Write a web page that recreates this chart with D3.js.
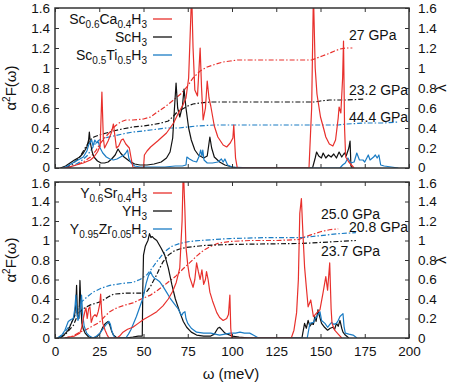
<!DOCTYPE html>
<html>
<head>
<meta charset="utf-8">
<script src="https://cdn.jsdelivr.net/npm/d3@7"></script>
<style>
  body { margin: 0; background: #fff; }
  svg { font-family: "Liberation Sans", Arial, sans-serif; }
  .tick text { font-size: 13.5px; fill: #111; }
</style>
</head>
<body>
<svg id="chart" width="458" height="382"></svg>
<script>
// ---- data (omega in meV, value) ----
var scCaA2F = [[5.5,0],[8,0.01],[12,0.03],[16,0.05],[20,0.08],[22,0.11],[24,0.16],[25.5,0.22],[26.5,0.76],[27.3,0.3],[28,0.2],[30,0.27],[32,0.36],[33,0.44],[34,0.3],[34.7,0.2],[36,0.22],[37.5,0.28],[38.5,0.29],[40,0.24],[41,0.22],[42,0.2],[43,0.1],[44,0.01],[46,0],[50,0],[50.5,0.13],[52,0.17],[54,0.21],[58,0.27],[63,0.35],[67,0.45],[70,0.56],[72,0.62],[74,0.7],[75.5,0.9],[76.5,1.4],[77.2,1.75],[78,1.2],[79,0.78],[80.5,0.72],[82,1.2],[82.8,0.8],[83.7,0.48],[85,0.6],[86,0.87],[87,0.7],[88,0.62],[90,0.42],[92,0.31],[95,0.23],[97,0.21],[99,0.25],[100.5,0.3],[101,0.43],[102,0.1],[103,0],[143.5,0],[145,0.6],[146,1.75],[147,1.0],[148,0.74],[150,0.51],[152,0.38],[153,0.31],[155,0.24],[157,0.22],[158.5,0.28],[160,0.5],[160.5,0.61],[161.5,0.55],[162.5,0.9],[163,1.27],[163.6,0.4],[164.2,0.11],[166,0.06],[168,0.02],[169,0]];
var scHA2F = [[3,0],[6,0.02],[8.5,0.05],[11,0.08],[14,0.11],[16,0.15],[18,0.21],[19,0.28],[19.4,0.36],[20,0.25],[21,0.16],[22,0.11],[24,0.07],[26,0.05],[28,0.05],[30,0.06],[32,0.09],[34,0.13],[35.6,0.19],[37,0.15],[39,0.11],[42,0.07],[45,0.04],[48,0.03],[52,0.03],[56,0.04],[60,0.06],[63,0.1],[65,0.16],[66.5,0.3],[67.5,0.6],[68.4,0.85],[69.3,0.6],[70.5,0.51],[72,0.62],[72.9,0.79],[74,0.6],[75.5,0.4],[77,0.28],[79,0.18],[81,0.13],[84,0.1],[86,0.12],[87.5,0.31],[88.5,0.2],[90,0.11],[93,0.06],[96,0.03],[100,0.01],[104,0],[145.5,0],[147,0.1],[147.8,0.16],[149,0.12],[150.5,0.1],[151.5,0.15],[153,0.1],[154.5,0.13],[156,0.11],[157.5,0.14],[159,0.1],[160.5,0.16],[162,0.11],[163.5,0.15],[164.5,0.12],[166,0.2],[166.7,0.27],[167.2,0.02],[168,0]];
var scTiA2F = [[4.5,0],[7,0.02],[10,0.05],[13,0.08],[16,0.11],[18,0.17],[19,0.23],[20.7,0.28],[21.5,0.22],[22.5,0.28],[23.5,0.25],[24.5,0.26],[25.5,0.2],[27,0.15],[29,0.11],[31,0.09],[33,0.08],[35,0.09],[37,0.11],[39,0.13],[40,0.15],[41,0.18],[41.7,0.1],[43,0.05],[45,0.02],[48,0.01],[55,0.01],[62,0.01],[68,0.02],[72,0.02],[74,0.03],[74.5,0.11],[76,0.09],[78,0.07],[80,0.06],[81.5,0.12],[82.3,0.18],[83,0.12],[83.5,0.18],[84.2,0.08],[86,0.05],[89,0.05],[92,0.06],[94,0.09],[95,0.06],[96,0.09],[97.5,0.03],[100,0.01],[112,0],[161,0],[162.5,0.03],[164,0.05],[165.5,0.1],[167,0.05],[169,0.06],[170.5,0.15],[172,0.08],[174,0.08],[175,0.06],[177,0.13],[178,0.08],[180,0.11],[181,0.13],[182,0.1],[183,0.13],[184,0.03],[186,0.02],[190,0.01],[194,0]];
var scCaLam = [[7,0],[12,0.03],[16,0.06],[20,0.11],[23,0.17],[25,0.23],[28,0.3],[31,0.36],[34,0.42],[37,0.46],[40,0.48],[44,0.48],[50,0.49],[54,0.51],[57,0.55],[62,0.61],[67,0.68],[71,0.74],[74.5,0.81],[78,0.9],[82,0.97],[86,1.01],[91,1.04],[95,1.06],[99,1.07],[103,1.08],[120,1.08],[145,1.08],[148,1.1],[151,1.12],[154,1.14],[158,1.17],[161,1.19],[164,1.2],[168,1.2]];
var scHLam = [[6,0],[10,0.04],[14,0.11],[17,0.2],[20,0.28],[22,0.31],[25,0.33],[29,0.35],[33,0.37],[38,0.39],[44,0.41],[50,0.42],[54,0.43],[60,0.45],[64,0.47],[67,0.52],[69,0.56],[72,0.59],[75,0.62],[78,0.64],[82,0.65],[88,0.66],[100,0.66],[147,0.66],[150,0.67],[155,0.68],[165,0.68],[175,0.69]];
var scTiLam = [[6,0],[10,0.02],[14,0.06],[18,0.12],[20,0.17],[21.5,0.21],[23,0.25],[25,0.28],[28,0.3],[33,0.32],[38,0.34],[44,0.36],[50,0.37],[54,0.38],[63,0.4],[70,0.4],[75,0.41],[80,0.42],[90,0.43],[100,0.43],[160,0.43],[165,0.44],[175,0.45],[185,0.45],[194,0.46]];

var ySrA2F = [[5.5,0],[8,0.01],[11,0.02],[14,0.05],[15,0.1],[16,0.2],[17,0.28],[17.5,0.31],[18.2,0.2],[19,0.3],[19.7,0.32],[20.5,0.16],[21.5,0.22],[22.6,0.24],[23.5,0.22],[24.4,0.27],[25.3,0.35],[25.8,0.45],[26.4,0.25],[27,0.15],[28.3,0.08],[29.5,0.03],[30.5,0],[35,0],[36.5,0.02],[38.4,0.06],[41,0.09],[44,0.11],[47,0.15],[50,0.19],[54,0.23],[57.5,0.27],[61,0.33],[64,0.4],[66.5,0.48],[68.5,0.57],[70.5,0.72],[71.8,1.2],[72.5,1.75],[73.4,1.3],[74,0.93],[75,0.75],[76,0.63],[78,0.52],[79,0.6],[80,0.77],[81,0.68],[82,0.6],[83,0.7],[84,0.55],[85,0.6],[85.6,0.68],[86.5,0.6],[87.5,0.47],[89,0.38],[91.4,0.26],[93,0.21],[95,0.18],[97,0.2],[98,0.24],[98.8,0.44],[99.3,0.1],[99.8,0],[133.5,0],[135,0.08],[136.5,0.26],[137.5,0.6],[138.3,1.28],[139.2,1.43],[140,1.1],[141,0.73],[142,0.52],[143,0.32],[144.5,0.39],[146,0.22],[148,0.26],[149.7,0.29],[151.4,0.46],[153,0.63],[154,0.49],[155.2,0.77],[156,0.3],[156.5,0.15],[158,0.08],[160,0.04],[162,0]];
var yHA2F = [[2,0],[5,0.03],[7.5,0.08],[9.4,0.16],[11,0.22],[11.8,0.35],[12.2,0.54],[12.7,0.22],[13.5,0.2],[14.1,0.59],[14.7,0.3],[15.2,0.15],[16,0.09],[17,0.05],[19,0.01],[21,0],[23.5,0.01],[25.5,0.05],[27,0.11],[28.5,0.15],[30,0.17],[31,0.13],[32,0.07],[33,0.03],[35,0],[40,0],[44,0.01],[47,0.02],[49.3,0.02],[49.6,0.5],[50,0.85],[51,0.94],[52.5,1.0],[53.4,1.07],[54.2,1.03],[55,1.04],[56,1.02],[57.5,1.0],[60,0.92],[62,0.85],[64,0.72],[66,0.55],[68,0.4],[70.6,0.26],[72.5,0.17],[74.4,0.11],[77,0.06],[80,0.03],[84,0.02],[88,0.02],[90,0.04],[92,0.1],[93,0.11],[94.5,0.08],[96,0.05],[100,0.02],[104,0.01],[110,0],[139.5,0],[140,0.05],[141,0.15],[142,0.1],[143,0.18],[144,0.12],[145,0.15],[146,0.14],[146.8,0.22],[147.5,0.17],[148.6,0.29],[149.5,0.22],[150.6,0.15],[152.3,0.11],[154,0.08],[155.5,0.1],[157,0.11],[158,0.09],[159,0.15],[160,0.12],[161,0.18],[162,0.1],[162.7,0.06],[164,0.03],[166,0]];
var yZrA2F = [[1.5,0],[3.5,0.02],[5.6,0.08],[7.5,0.17],[9,0.19],[10.3,0.2],[11.2,0.3],[11.8,0.44],[12.4,0.25],[13,0.18],[14,0.25],[15,0.44],[15.6,0.25],[16.5,0.12],[17.9,0.05],[19.5,0.02],[21.5,0],[23.5,0.02],[25.4,0.05],[27,0.09],[28.5,0.13],[30.5,0.17],[31.3,0.14],[32,0.08],[33,0.03],[34,0],[40,0],[41.5,0.04],[43,0.09],[46,0.22],[49.7,0.41],[51.5,0.56],[52.8,0.64],[54,0.68],[55,0.64],[56.4,0.61],[57.5,0.6],[59,0.58],[61,0.53],[63,0.47],[65,0.41],[67,0.36],[69.5,0.3],[71.5,0.23],[72.5,0.26],[73.4,0.27],[74,0.2],[75,0.15],[77,0.1],[80,0.06],[84,0.05],[88,0.05],[93,0.03],[96,0.04],[99,0.05],[102,0.05],[104.5,0.06],[107,0.05],[110,0.05],[112,0.03],[115,0],[142.5,0],[143.5,0.1],[144,0.15],[146,0.16],[147,0.2],[148,0.22],[149.7,0.27],[150.6,0.18],[152.5,0.15],[154,0.11],[155.3,0.14],[156.3,0.16],[157.5,0.14],[159,0.15],[160,0.18],[161,0.22],[162.7,0.25],[163.3,0.12],[164,0.05],[166,0.04],[168.4,0.03],[170.6,0]];
var ySrLam = [[5.5,0],[10,0.02],[14,0.06],[18,0.09],[22,0.13],[25,0.16],[28,0.22],[31,0.27],[35,0.31],[40,0.34],[44,0.36],[50,0.41],[54,0.44],[58,0.49],[63,0.56],[68,0.63],[72.4,0.71],[76,0.77],[80,0.84],[84,0.9],[88,0.94],[92,0.97],[98.6,0.99],[110,1.0],[125,1.0],[138,1.01],[140,1.03],[145,1.06],[150,1.09],[155,1.11],[160,1.12]];
var yHLam = [[3,0],[6,0.04],[8,0.08],[10.4,0.13],[12,0.2],[14,0.27],[16,0.3],[20,0.34],[25.4,0.37],[30,0.42],[33,0.45],[40,0.46],[50,0.46],[52,0.48],[54,0.53],[56,0.6],[57.5,0.65],[59,0.71],[61,0.78],[64,0.85],[67,0.89],[70,0.91],[74.4,0.93],[85,0.95],[100,0.96],[140,0.97],[150,0.98],[160,0.99],[170,1.0]];
var yZrLam = [[1.5,0],[5,0.05],[8.5,0.13],[11,0.22],[13,0.3],[15,0.37],[18,0.42],[21.5,0.47],[26,0.51],[31,0.54],[38,0.56],[44,0.57],[48,0.6],[52,0.65],[55,0.72],[57.4,0.78],[60,0.84],[63,0.9],[66,0.94],[70.5,0.97],[76,0.99],[82,1.0],[90,1.01],[98.6,1.02],[120,1.03],[140,1.03],[150,1.05],[160,1.07],[170,1.08]];

var xTicks = [0, 25, 50, 75, 100, 125, 150, 175, 200];
var yTicks = [0, 0.2, 0.4, 0.6, 0.8, 1, 1.2, 1.4, 1.6];
// legend labels as [text, subscript] pairs
var topLegend = [[["Sc", "0.6"], ["Ca", "0.4"], ["H", "3"]], [["ScH", "3"]], [["Sc", "0.5"], ["Ti", "0.5"], ["H", "3"]]];
var botLegend = [[["Y", "0.6"], ["Sr", "0.4"], ["H", "3"]], [["YH", "3"]], [["Y", "0.95"], ["Zr", "0.05"], ["H", "3"]]];
var topPress = ["27 GPa", "23.2 GPa", "44.4 GPa"];
var botPress = ["25.0 GPa", "20.8 GPa", "23.7 GPa"];

var RED = "#e8302c", BLACK = "#111", BLUE = "#1b7cc4";
var colors = [RED, BLACK, BLUE];

var svg = d3.select("#chart");
var x = d3.scaleLinear().domain([0, 200]).range([55, 409]);

function panel(id, top, bottom, a2f, lam, legend, press, pressPos, showX) {
    var y = d3.scaleLinear().domain([0, 1.6]).range([bottom, top]);
    var g = svg.append("g");

    svg.append("clipPath").attr("id", "clip" + id)
        .append("rect").attr("x", 55).attr("y", top).attr("width", 354).attr("height", bottom - top);

    var line = d3.line().x(function (d) { return x(d[0]); }).y(function (d) { return y(d[1]); });
    var lines = g.append("g").attr("clip-path", "url(#clip" + id + ")");

    lam.forEach(function (s, i) {
        lines.append("path").attr("d", line(s)).attr("fill", "none")
            .attr("stroke", colors[i]).attr("stroke-width", 1.2)
            .attr("stroke-dasharray", "5,2,1.5,2");
    });
    // black first, then blue, red on top
    [1, 2, 0].forEach(function (i) {
        lines.append("path").attr("d", line(a2f[i])).attr("fill", "none")
            .attr("stroke", colors[i]).attr("stroke-width", 1.2).attr("stroke-linejoin", "round");
    });

    var fmt = function (d) { return +d.toFixed(1) + ""; };
    var yl = g.append("g").attr("transform", "translate(55,0)")
        .call(d3.axisLeft(y).tickValues(yTicks).tickFormat(fmt).tickSizeInner(-4).tickSizeOuter(0).tickPadding(5));
    var yr = g.append("g").attr("transform", "translate(409,0)")
        .call(d3.axisRight(y).tickValues(yTicks).tickFormat(fmt).tickSizeInner(-4).tickSizeOuter(0).tickPadding(9));
    g.append("g").attr("transform", "translate(0," + top + ")")
        .call(d3.axisTop(x).tickValues(xTicks).tickFormat("").tickSizeInner(-4).tickSizeOuter(0));
    g.append("g").attr("transform", "translate(0," + bottom + ")")
        .call(d3.axisBottom(x).tickValues(xTicks).tickFormat(showX ? d3.format("d") : "").tickSizeInner(-4).tickSizeOuter(0).tickPadding(8));
    g.selectAll(".domain").remove();
    g.selectAll(".tick line").attr("stroke", "#333");
    // the "0" of the top panel and "1.6" of the bottom one sit very close
    [yl, yr].forEach(function (ax) {
        ax.selectAll(".tick text").attr("dy", function (d) {
            if (showX && d === 1.6) return "0.4em";
            if (!showX && d === 0) return "0.24em";
            return "0.32em";
        });
    });

    g.append("rect").attr("x", 55).attr("y", top).attr("width", 354).attr("height", bottom - top)
        .attr("fill", "none").attr("stroke", "#333").attr("stroke-width", 1.5);

    // axis titles
    var cy = (top + bottom) / 2;
    var yt = g.append("text").attr("transform", "translate(16," + cy + ") rotate(-90)")
        .attr("text-anchor", "middle").attr("font-size", 15).attr("fill", "#111");
    yt.append("tspan").text("\u03b1");
    yt.append("tspan").attr("dy", -6).attr("font-size", 10).text("2");
    yt.append("tspan").attr("dy", 6).text("F(\u03c9)");
    g.append("text").attr("transform", "translate(446," + cy + ") rotate(-90)")
        .attr("text-anchor", "middle").attr("font-size", 15).attr("fill", "#111").text("\u03bb");

    // legend
    legend.forEach(function (parts, i) {
        var ly = top + 11 + i * 18;
        var t = g.append("text").attr("x", 147).attr("y", ly + 5).attr("text-anchor", "end")
            .attr("font-size", 14).attr("fill", "#111");
        parts.forEach(function (p, k) {
            t.append("tspan").attr("dy", k === 0 ? 0 : -4).text(p[0]);
            t.append("tspan").attr("dy", 4).attr("font-size", 10).text(p[1]);
        });
        g.append("line").attr("x1", 153).attr("x2", 172).attr("y1", ly).attr("y2", ly)
            .attr("stroke", colors[i]).attr("stroke-width", 1.3);
    });

    press.forEach(function (p, i) {
        g.append("text").attr("x", pressPos[i][0]).attr("y", pressPos[i][1] + 5)
            .attr("font-size", 14).attr("fill", "#111").text(p);
    });
}

panel("a", 8, 168, [scCaA2F, scHA2F, scTiA2F], [scCaLam, scHLam, scTiLam], topLegend, topPress,
      [[349, 35], [349, 90], [349, 117]], false);
panel("b", 182, 338, [ySrA2F, yHA2F, yZrA2F], [ySrLam, yHLam, yZrLam], botLegend, botPress,
      [[321, 214], [349, 227], [321, 251]], true);

svg.append("text").attr("x", 231).attr("y", 379).attr("text-anchor", "middle")
    .attr("font-size", 15).attr("fill", "#111").text("\u03c9 (meV)");
</script>
</body>
</html>
